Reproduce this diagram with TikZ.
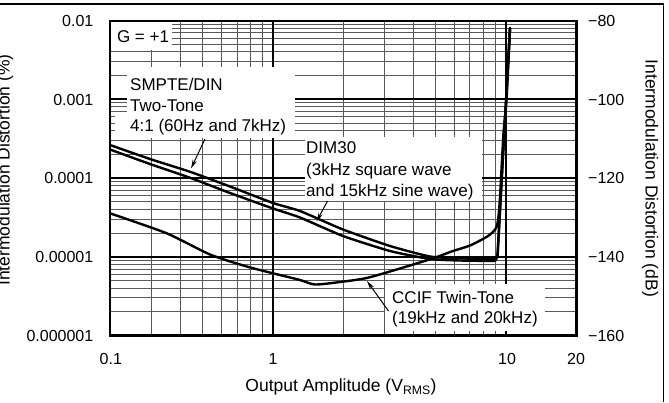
\documentclass[tikz,border=0pt]{standalone}
\usepackage{fontspec}
\setmainfont{Liberation Sans}
\usetikzlibrary{arrows.meta}
\begin{document}
\begin{tikzpicture}[x=1pt,y=-1pt,
  minorgrid/.style={line width=0.9pt, black!65},
  majorgrid/.style={line width=2pt, black},
  curve/.style={line width=2.4pt, black, line join=round, line cap=round},
  maskbox/.style={fill=white, draw=none, inner sep=0pt, outer sep=0pt, anchor=north west},
  lbl/.style={font=\fontsize{17}{20}\selectfont, inner sep=0pt, anchor=base west},
  ticklbl/.style={font=\fontsize{16}{19}\selectfont, inner sep=0pt},
  axtitle/.style={font=\fontsize{17.5}{20}\selectfont, inner sep=0pt, anchor=base},
  pointer/.style={line width=1pt, -{Stealth[length=9pt,width=4.5pt]}},
]
\useasboundingbox (0,0) rectangle (669,402);
% outer frame
\coordinate (frameA) at (0,4);
\coordinate (frameB) at (663.7,4);
\coordinate (frameC) at (663.7,402);
\draw[line width=1.3pt] (frameA) -- (frameB) -- (frameC);

% vertical grid
\foreach \v in {0.3,0.4,0.5,0.6,0.7,0.8,0.9,2,3,4,5,6,7,8,9} {
  \pgfmathsetmacro\xx{273+232.7*log10(\v)}
  \draw[minorgrid] (\xx,20.8) -- (\xx,335.5);
}
% horizontal grid
\foreach \d in {0,1,2,3} {
  \foreach \k in {2,...,9} {
    \pgfmathsetmacro\yy{20.5+78.75*(\d+1)-78.75*log10(\k)}
    \draw[minorgrid] (109.8,\yy) -- (576.5,\yy);
  }
}
\foreach \yy in {99.25,178,256.75} \draw[majorgrid] (109.8,\yy) -- (576.5,\yy);
\foreach \xx in {273,505.7} \draw[majorgrid] (\xx,20.8) -- (\xx,335.5);

% white label backgrounds
\node[maskbox, minimum width=61pt, minimum height=28pt] (gBox) at (110.5,21.5) {};
\node[maskbox, minimum width=168pt, minimum height=71pt] (smpteBox) at (127,67) {};
\node[maskbox, minimum width=13pt, minimum height=22pt] (smpteExt) at (115,116) {};
\node[maskbox, minimum width=177pt, minimum height=64pt] (dimBox) at (305,136.5) {};
\node[maskbox, minimum width=160pt, minimum height=47pt] (ccifBox) at (385,283.5) {};

% plot border
\draw[line width=2.4pt] (109.8,20.8) rectangle (576.5,335.5);

% SMPTE/DIN
\draw[curve] plot[smooth, tension=0.35] coordinates {(110,145) (150,159) (190.7,172) (230,186.5) (273,203) (300,211) (343,229.5) (390,246) (430,256.5) (460,258.3) (495,259.3)}
  -- (497.5,255) -- (510,28);
% DIM30
\draw[curve] plot[smooth, tension=0.35] coordinates {(110,149.5) (150,164) (190.7,178) (230,193) (273,208.5) (300,217.5) (343,236) (390,251) (430,259) (460,260.5) (495,261)}
  -- (497.5,257) -- (510,28);
% CCIF
\draw[curve] plot[smooth, tension=0.4] coordinates {(110,213.3) (166.7,233.3) (210,254.5) (246.7,266.5) (273,273.3) (300,280) (315,284.5) (340,282) (366.7,278) (400,268.5) (433,258.3) (453,251) (470,245.5) (488,236) (496.5,227) (499.5,205) (503.5,133) (506.5,100) (510,28)};

% pointers
\coordinate (smpteTail) at (205,139);
\coordinate (smpteTip) at (191,168.5);
\coordinate (dimTail) at (327.5,201);
\coordinate (dimTip) at (316.5,221.5);
\coordinate (ccifTail) at (388.5,311);
\coordinate (ccifTip) at (367,281);
\draw[pointer] (smpteTail) -- (smpteTip);
\draw[pointer] (dimTail) -- (dimTip);
\draw[pointer] (ccifTail) -- (ccifTip);

% labels
\node[lbl] (gain) at (116.8,42.3) {G = +1};
\node[lbl] (smpteA) at (130,90) {SMPTE/DIN};
\node[lbl] (smpteB) at (130,111.2) {Two-Tone};
\node[lbl] (smpteC) at (130,131.7) {4:1 (60Hz and 7kHz)};
\node[lbl] (dimA) at (306,153.3) {DIM30};
\node[lbl] (dimB) at (306,175) {(3kHz square wave};
\node[lbl] (dimC) at (306,196.5) {and 15kHz sine wave)};
\node[lbl] (ccifA) at (392,303.3) {CCIF Twin-Tone};
\node[lbl] (ccifB) at (392,323.3) {(19kHz and 20kHz)};

% left ticks
\node[ticklbl, anchor=base east] (l1) at (93.5,26.3) {0.01};
\node[ticklbl, anchor=base east] (l2) at (93.5,105.05) {0.001};
\node[ticklbl, anchor=base east] (l3) at (93.5,183.8) {0.0001};
\node[ticklbl, anchor=base east] (l4) at (93.5,262.55) {0.00001};
\node[ticklbl, anchor=base east] (l5) at (93.5,341.3) {0.000001};
% right ticks
\node[ticklbl, anchor=base west] (r1) at (588,26.3) {−80};
\node[ticklbl, anchor=base west] (r2) at (588,105.05) {−100};
\node[ticklbl, anchor=base west] (r3) at (588,183.8) {−120};
\node[ticklbl, anchor=base west] (r4) at (588,262.55) {−140};
\node[ticklbl, anchor=base west] (r5) at (588,341.3) {−160};
% bottom ticks
\node[ticklbl, anchor=base] (b1) at (110.8,364) {0.1};
\node[ticklbl, anchor=base] (b2) at (273,364) {1};
\node[ticklbl, anchor=base] (b3) at (507,364) {10};
\node[ticklbl, anchor=base] (b4) at (576,364) {20};

% axis titles
\node[axtitle] (xtitle) at (341,391.7) {Output Amplitude (V\textsubscript{RMS})};
\node[axtitle, rotate=90] (ytitleL) at (9.5,170) {Intermodulation Distortion (\%)};
\node[axtitle, rotate=-90] (ytitleR) at (645.5,178.3) {Intermodulation Distortion (dB)};
\end{tikzpicture}
\end{document}
